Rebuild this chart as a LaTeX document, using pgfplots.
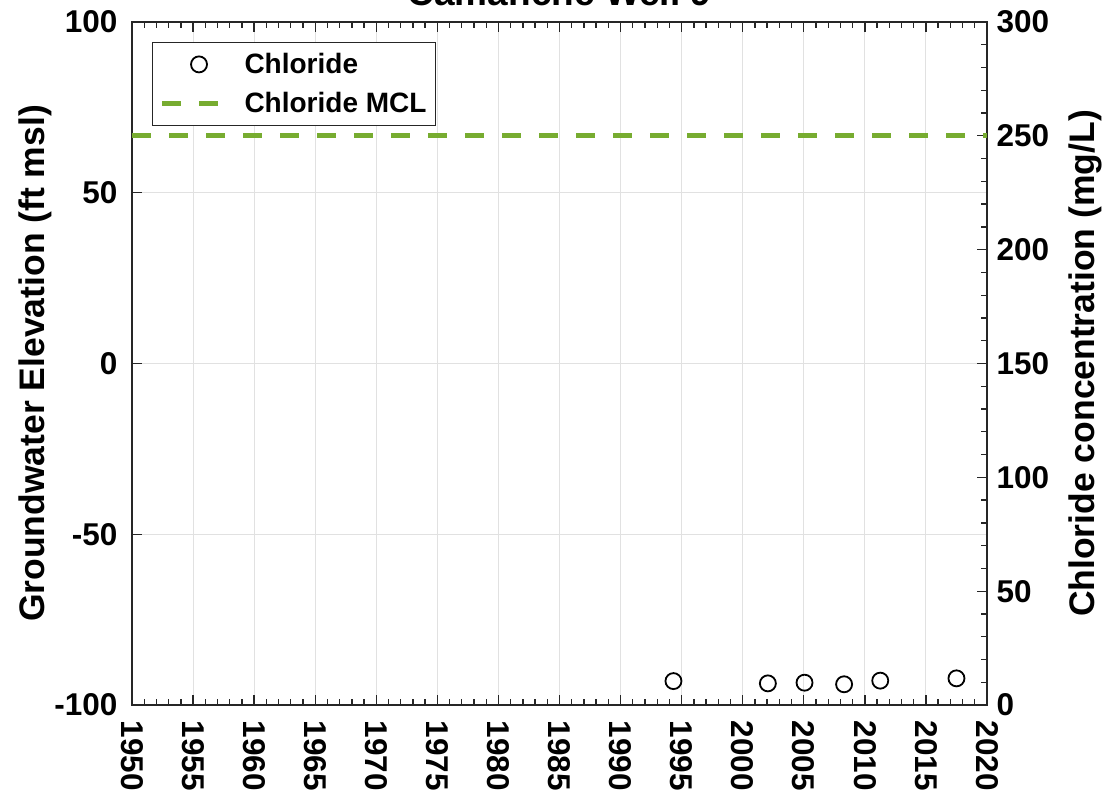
\documentclass[border=0pt]{standalone}
\usepackage{fontspec}
\setmainfont{Liberation Sans}
\usepackage{pgfplots}
\pgfplotsset{compat=1.18}
\definecolor{mclgreen}{RGB}{119,172,48}
\definecolor{axgray}{RGB}{38,38,38}
\definecolor{gridgray}{RGB}{225,225,225}
\pgfplotsset{
  markleg/.style={legend image code/.code={\draw[mark repeat=2,mark phase=2,##1] plot coordinates {(0pt,0pt) (37pt,0pt) (62pt,0pt)};}},
  lineleg/.style={legend image code/.code={\draw[##1] (0pt,0pt) -- (62pt,0pt);}},
}
\begin{document}
\begin{tikzpicture}
\pgfplotsset{
  common/.style={
    scale only axis, width=855pt, height=683pt,
    at={(0pt,0pt)}, anchor=south west,
    xmin=1950, xmax=2020,
    tick align=inside,
    axis line style={axgray, line width=1.3pt},
    every tick/.style={axgray, line width=1.3pt},
    major tick length=10pt, minor tick length=6pt,
    /pgf/number format/assume math mode=true,
    /pgf/number format/1000 sep={},
    tick label style={font=\fontsize{31.5}{31.5}\selectfont\bfseries},
    label style={font=\fontsize{35.5}{35.5}\selectfont\bfseries},
  }
}
\begin{axis}[common,
  ymin=-100, ymax=100,
  ytick={-100,-50,0,50,100},
  ytick pos=left,
  xtick distance=5, minor x tick num=4,
  xtick pos=both,
  grid=major,
  major grid style={gridgray, line width=0.9pt},
  x tick label style={rotate=-90, anchor=west, xshift=12pt},
  y tick label style={xshift=-11pt},
  ylabel={Groundwater Elevation (ft msl)},
  ylabel style={at={(axis description cs:-0.1135,0.5)}, anchor=center},
]
\addplot[draw=none] coordinates {(1950,0)};
\end{axis}
\begin{axis}[common,
  ymin=0, ymax=300,
  axis y line*=right, axis x line=none,
  ytick distance=50, minor y tick num=4,
  ylabel={Chloride concentration (mg/L)},
  ylabel style={at={(axis description cs:1.1146,0.5)}, anchor=center},
  y tick label style={xshift=6pt},
  legend style={at={(axis description cs:0.0234,0.9707)}, anchor=north west,
    draw=axgray, line width=1pt, font=\fontsize{28}{28}\selectfont\bfseries,
    cells={anchor=west}, row sep=13pt, column sep=16pt, inner xsep=7pt, inner ysep=9pt},
  legend cell align=left,
]
\addplot[only marks, mark=o, mark size=8pt, line width=1.8pt, black, markleg]
  coordinates {(1994.33,10.5) (2002.06,9.5) (2005.06,9.8) (2008.3,9.1) (2011.26,10.7) (2017.5,11.7)};
\addlegendentry{Chloride}
\addplot[mclgreen, line width=5pt, dash pattern=on 19pt off 18pt, lineleg]
  coordinates {(1950,250) (2020,250)};
\addlegendentry{Chloride MCL}
\end{axis}
\node[anchor=base, font=\fontsize{37}{37}\selectfont\bfseries] at (427.5pt,699pt) {Camanche Well 9};
\pgfresetboundingbox
\path[use as bounding box] (-132pt,-87pt) rectangle (977pt,705pt);
\end{tikzpicture}
\end{document}
